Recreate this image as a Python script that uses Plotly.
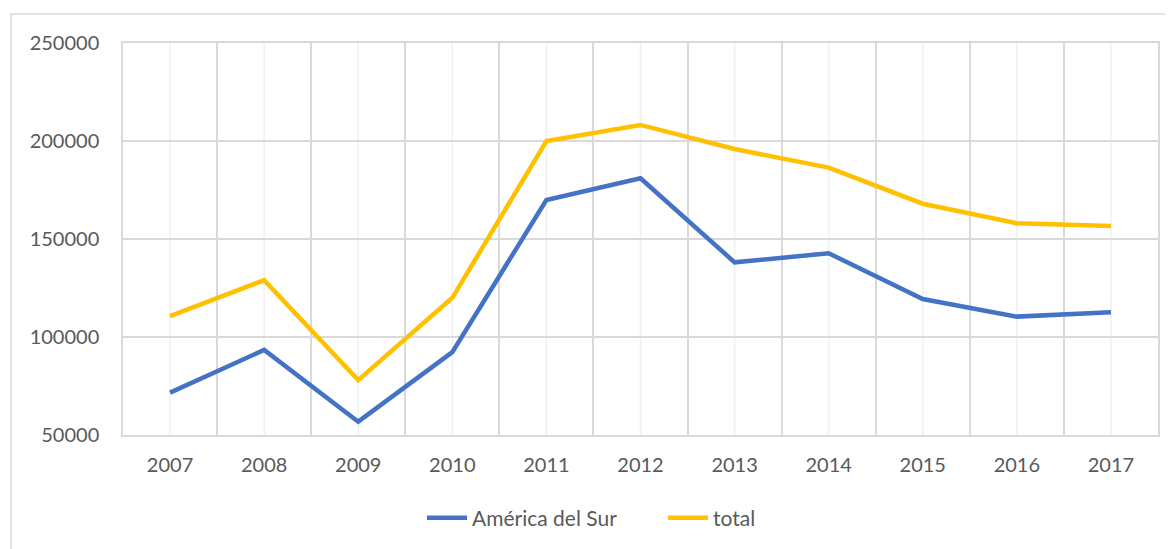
import plotly.graph_objects as go

years = ["2007", "2008", "2009", "2010", "2011", "2012", "2013", "2014", "2015", "2016", "2017"]
america_sur = [71600, 93400, 56800, 92300, 169900, 181000, 138100, 142700, 119400, 110400, 112600]
total = [110700, 129000, 78000, 120000, 200000, 208200, 195900, 186400, 168000, 158000, 156600]
series_names = ["América del Sur", "total"]
y_ticks = [50000, 100000, 150000, 200000, 250000]

# page body has an 8px default margin; layout compensates for it
OFF = 8
W, H = 1173, 549
ML, MR, MT, MB = 123 - OFF, W - (1158 - OFF), 43 - OFF, H - (435 - OFF)
pw, ph = W - ML - MR, H - MT - MB

FONT = "Lato"
TXT = "#595959"

fig = go.Figure()
fig.add_trace(go.Scatter(x=years, y=america_sur, name=series_names[0], mode="lines",
                         line=dict(color="#4472C4", width=4.5)))
fig.add_trace(go.Scatter(x=years, y=total, name=series_names[1], mode="lines",
                         line=dict(color="#FFC000", width=4.5)))

shapes = []
# minor gridlines at category centers (category index positions)
for i, _ in enumerate(years):
    shapes.append(dict(type="line", xref="x", yref="paper", x0=i, x1=i, y0=0, y1=1,
                       line=dict(color="#F0F0F0", width=1.5), layer="below"))
# outer chart border
bx0, by0 = 11 - OFF, 14 - OFF
shapes.append(dict(type="rect", xref="paper", yref="paper",
                   x0=(bx0 - ML) / pw, x1=(W + 20 - ML) / pw,
                   y0=(H - MB - (H + 20)) / ph, y1=(H - MB - by0) / ph,
                   line=dict(color="#D9D9D9", width=1.5), fillcolor="rgba(0,0,0,0)", layer="below"))

fig.update_layout(
    width=W, height=H,
    margin=dict(l=ML, r=MR, t=MT, b=MB, autoexpand=False),
    paper_bgcolor="white", plot_bgcolor="white",
    font=dict(family=FONT, size=20, color=TXT),
    showlegend=True,
    legend=dict(orientation="h", x=(428 - OFF - 6 - ML) / pw, xanchor="left",
                y=(H - MB - (518 - OFF)) / ph, yanchor="middle",
                entrywidth=186, entrywidthmode="pixels",
                font=dict(family=FONT, size=21, color=TXT), itemwidth=40),
    shapes=shapes,
)
fig.update_xaxes(type="category", range=[-0.5, len(years) - 0.5], tickangle=0,
                 tickson="boundaries", showgrid=True, gridcolor="#D9D9D9", gridwidth=1.5,
                 showline=True, linecolor="#D9D9D9", linewidth=1.5, mirror=True,
                 ticks="", ticklabelstandoff=11, tickfont=dict(family=FONT, size=20, color=TXT))
fig.update_yaxes(range=[50000, 250000], tickvals=y_ticks, tickformat="d",
                 showgrid=True, gridcolor="#D9D9D9", gridwidth=1.5,
                 showline=True, linecolor="#D9D9D9", linewidth=1.5, mirror=True,
                 zeroline=False, ticks="", ticklabelstandoff=18,
                 tickfont=dict(family=FONT, size=20, color=TXT))

fig.write_html("out.html")
